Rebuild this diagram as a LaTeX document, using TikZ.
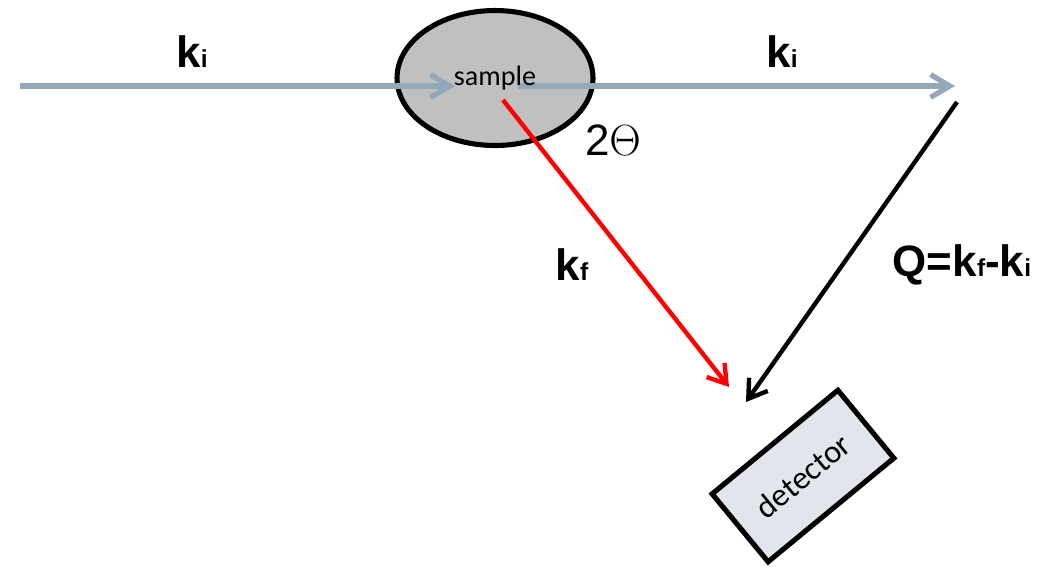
\documentclass[tikz,border=0pt]{standalone}
\usepackage{fontspec}
\setmainfont{Liberation Sans}
\newfontfamily\calibri{Carlito}
\usetikzlibrary{arrows.meta,shapes.geometric}
\definecolor{beamgray}{RGB}{147,169,185}
\definecolor{samplegray}{RGB}{192,192,192}
\definecolor{detectorblue}{RGB}{224,230,236}
\newcommand{\wavevec}[1]{\textbf{k}{\fontsize{14}{14}\selectfont\textbf{#1}}}

\begin{document}
\begin{tikzpicture}[x=0.02cm,y=-0.02cm,
  beam/.style={draw=beamgray,line width=3pt,-{Straight Barb[length=11pt,width=13pt]}},
  vec/.style={line width=2.5pt,-{Straight Barb[length=10pt,width=13pt]}},
  lbl/.style={font=\fontsize{25}{25}\selectfont}]
\useasboundingbox (0,0) rectangle (1061,566);
% sample
\node (sample) [draw,line width=2.9pt,fill=samplegray,ellipse,inner sep=0pt,minimum width=3.92cm,minimum height=2.7cm] at (495,78) {};
% beams
\coordinate (src) at (20,86);
\coordinate (hit) at (455,86);
\coordinate (out) at (518,86);
\coordinate (end) at (955,86);
\draw[beam] (src) -- (hit);
\draw[beam] (out) -- (end);
\node (samplelabel) at (sample) {\calibri\fontsize{16}{16}\selectfont sample};
% detector
\node (detector) [draw,line width=2.9pt,fill=detectorblue,rotate=39.5,minimum width=3.26cm,minimum height=1.76cm] at (803,476) {\calibri\fontsize{18.5}{18.5}\selectfont detector};
% scattered and transfer vectors
\coordinate (kfstart) at (503,100);
\coordinate (kfend) at (729,387);
\coordinate (qstart) at (957,102);
\coordinate (qend) at (746,402);
\draw[vec,red] (kfstart) -- (kfend);
\draw[vec,black] (qstart) -- (qend);
% labels
\node[lbl,anchor=base] (kin) at (192,67) {\wavevec{i}};
\node[lbl,anchor=base] (kout) at (782,67) {\wavevec{i}};
\node[lbl] (angle) at (613,140) {2$\Theta$};
\node[lbl] (kf) at (572,265) {\wavevec{f}};
\node[lbl] (qlabel) at (962,265) {\textbf{Q=k}{\fontsize{14}{14}\selectfont\textbf{f}}\textbf{-}\wavevec{i}};
\end{tikzpicture}
\end{document}
